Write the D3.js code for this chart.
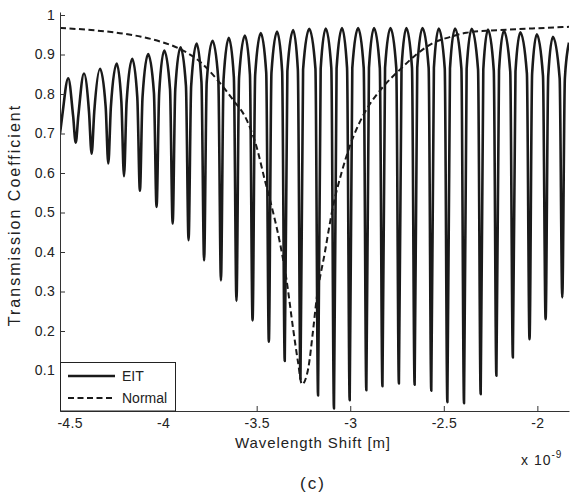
<!DOCTYPE html>
<html>
<head>
<meta charset="utf-8">
<script src="https://cdnjs.cloudflare.com/ajax/libs/d3/7.8.5/d3.min.js"></script>
<style>
	body { margin: 0; background: #fff; }
	svg text { font-family: "Liberation Sans", Arial, Helvetica, sans-serif; fill: #222; }
	.axis path, .axis line { stroke: #333; }
	.axis text { font-size: 14px; letter-spacing: 0.3px; }
</style>
</head>
<body>
<div id="chart"></div>
<script>
// EIT transmission: fringe crests, knees (where the crest turns into the steep wall) and dips
// x values are wavelength shift in units of 1e-9 m
let peakX = [-4.507, -4.423, -4.337, -4.248, -4.165, -4.080, -3.994, -3.907, -3.821, -3.736, -3.649,
	-3.563, -3.478, -3.391, -3.305, -3.219, -3.131, -3.044, -2.958, -2.873, -2.785, -2.700, -2.614,
	-2.527, -2.440, -2.351, -2.264, -2.179, -2.091, -2.003, -1.917];
let peakT = [0.840, 0.852, 0.864, 0.877, 0.889, 0.901, 0.910, 0.918, 0.928, 0.935, 0.942,
	0.948, 0.954, 0.958, 0.962, 0.965, 0.966, 0.967, 0.967, 0.967, 0.967, 0.967, 0.967,
	0.966, 0.966, 0.965, 0.963, 0.960, 0.956, 0.951, 0.945];
let dipX = [-4.467, -4.382, -4.293, -4.209, -4.124, -4.035, -3.949, -3.864, -3.781, -3.691, -3.608,
	-3.522, -3.435, -3.350, -3.266, -3.172, -3.087, -3.003, -2.914, -2.828, -2.740, -2.656, -2.567,
	-2.481, -2.392, -2.303, -2.219, -2.131, -2.042, -1.956, -1.867];
let dipT = [0.677, 0.649, 0.624, 0.592, 0.555, 0.514, 0.472, 0.430, 0.379, 0.328, 0.276,
	0.227, 0.173, 0.124, 0.078, 0.037, 0.004, 0.025, 0.050, 0.060, 0.067, 0.064, 0.049,
	0.020, 0.017, 0.040, 0.087, 0.133, 0.179, 0.230, 0.285];
let kneeT = [0.745, 0.755, 0.768, 0.780, 0.792, 0.803, 0.812, 0.821, 0.830, 0.837, 0.843,
	0.849, 0.854, 0.858, 0.862, 0.864, 0.865, 0.866, 0.866, 0.866, 0.866, 0.866, 0.866,
	0.865, 0.864, 0.862, 0.860, 0.857, 0.852, 0.846, 0.840];
// curve enters the window on a rising wall and leaves it on the next one
let eitHead = [[-4.551, 0.700], [-4.539, 0.745]];
let eitTail = [[-1.831, 0.930]];

// Normal (no EIT) transmission
let normalX = [-4.551, -4.385, -4.231, -4.117, -4.017, -3.910, -3.804, -3.714, -3.626, -3.554,
	-3.501, -3.457, -3.412, -3.376, -3.341, -3.305, -3.279, -3.258, -3.225, -3.199, -3.180,
	-3.136, -3.092, -3.047, -3.003, -2.958, -2.914, -2.825, -2.736, -2.647, -2.558, -2.469,
	-2.380, -2.273, -2.202, -2.026, -1.831];
let normalT = [0.967, 0.962, 0.954, 0.945, 0.933, 0.914, 0.882, 0.838, 0.785, 0.735,
	0.667, 0.583, 0.500, 0.424, 0.331, 0.205, 0.121, 0.065, 0.104, 0.200, 0.280,
	0.398, 0.515, 0.600, 0.667, 0.720, 0.760, 0.818, 0.861, 0.900, 0.929, 0.944,
	0.955, 0.960, 0.962, 0.966, 0.970];

let xTicks = [-4.5, -4, -3.5, -3, -2.5, -2];
let yTicks = [0.1, 0.2, 0.3, 0.4, 0.5, 0.6, 0.7, 0.8, 0.9, 1];
let legendNames = ['EIT', 'Normal'];

let width = 576;
let height = 495;
let plot = {left: 60, right: 569, top: 12, bottom: 411};
let kneeW = 0.014; // half width of a dip at knee level (x units)

let xScale = d3.scaleLinear()
		.domain([-4.551, -1.831])
		.range([plot.left, plot.right]);

let yScale = d3.scaleLinear()
		.domain([-0.0025, 1.0076])
		.range([plot.bottom, plot.top]);

let svg = d3.select('#chart')
		.append('svg')
		.attr('width', width)
		.attr('height', height);

svg.append('defs')
		.append('clipPath')
		.attr('id', 'clip')
		.append('rect')
		.attr('x', plot.left)
		.attr('y', plot.top - 2)
		.attr('width', plot.right - plot.left)
		.attr('height', plot.bottom - plot.top + 2);

/**
 * Builds the vertex list for the EIT curve: crest, knee, dip, knee for every fringe.
 */
function eitPoints() {
	let pts = eitHead.slice();
	for(let i = 0; i < dipX.length; i++) {
		pts.push([peakX[i], peakT[i]]);
		pts.push([dipX[i] - kneeW, kneeT[i]]);
		pts.push([dipX[i], dipT[i]]);
		pts.push([dipX[i] + kneeW, kneeT[i]]);
	}
	return pts.concat(eitTail);
}

let line = d3.line()
		.x(d => xScale(d[0]))
		.y(d => yScale(d[1]))
		.curve(d3.curveMonotoneX);

let normalPts = normalX.map((x, i) => [x, normalT[i]]);

// Curves
let curves = svg.append('g').attr('clip-path', 'url(#clip)');

curves.append('path')
		.attr('d', line(eitPoints()))
		.attr('fill', 'none')
		.attr('stroke', '#1a1a1a')
		.attr('stroke-width', 2.6)
		.attr('stroke-linejoin', 'round');

curves.append('path')
		.attr('d', line(normalPts))
		.attr('fill', 'none')
		.attr('stroke', '#1a1a1a')
		.attr('stroke-width', 2)
		.attr('stroke-dasharray', '6,3.5');

// Axes, MATLAB style ticks pointing inwards
svg.append('g')
		.attr('class', 'axis')
		.attr('transform', `translate(0, ${plot.bottom})`)
		.call(d3.axisBottom(xScale)
				.tickValues(xTicks)
				.tickSizeInner(-5)
				.tickSizeOuter(0)
				.tickPadding(7)
				.tickFormat(d => String(d)));

svg.append('g')
		.attr('class', 'axis')
		.attr('transform', `translate(${plot.left}, 0)`)
		.call(d3.axisLeft(yScale)
				.tickValues(yTicks)
				.tickSizeInner(-5)
				.tickSizeOuter(0)
				.tickPadding(5)
				.tickFormat(d => String(d)));

// Legend
let legend = svg.append('g').attr('transform', `translate(${plot.left}, 362)`);
legend.append('rect')
		.attr('x', 0.5)
		.attr('y', 0.5)
		.attr('width', 115)
		.attr('height', 48.5)
		.attr('fill', '#fff')
		.attr('stroke', '#222');

legendNames.forEach((name, i) => {
	let y = 14 + i * 22;
	legend.append('line')
			.attr('x1', 8)
			.attr('x2', 55)
			.attr('y1', y)
			.attr('y2', y)
			.attr('stroke', '#1a1a1a')
			.attr('stroke-width', i === 0 ? 2.4 : 2)
			.attr('stroke-dasharray', i === 0 ? null : '6,3.5');
	legend.append('text')
			.attr('x', 62)
			.attr('y', y + 5)
			.style('font-size', '14px')
			.text(name);
});

// Labels
svg.append('text')
		.attr('transform', 'translate(20, 215) rotate(-90)')
		.attr('text-anchor', 'middle')
		.style('font-size', '16px')
		.style('letter-spacing', '2px')
		.text('Transmission Coefficient');

svg.append('text')
		.attr('x', 313)
		.attr('y', 448)
		.attr('text-anchor', 'middle')
		.style('font-size', '15px')
		.style('letter-spacing', '0.9px')
		.text('Wavelength Shift [m]');

let mult = svg.append('text')
		.attr('x', 521)
		.attr('y', 465)
		.style('font-size', '14px')
		.style('letter-spacing', '1px');
mult.append('tspan').text('x 10');
mult.append('tspan')
		.attr('dy', -7)
		.style('font-size', '10px')
		.text('-9');

svg.append('text')
		.attr('x', 313)
		.attr('y', 489)
		.attr('text-anchor', 'middle')
		.style('font-size', '17px')
		.style('letter-spacing', '2px')
		.text('(c)');
</script>
</body>
</html>
